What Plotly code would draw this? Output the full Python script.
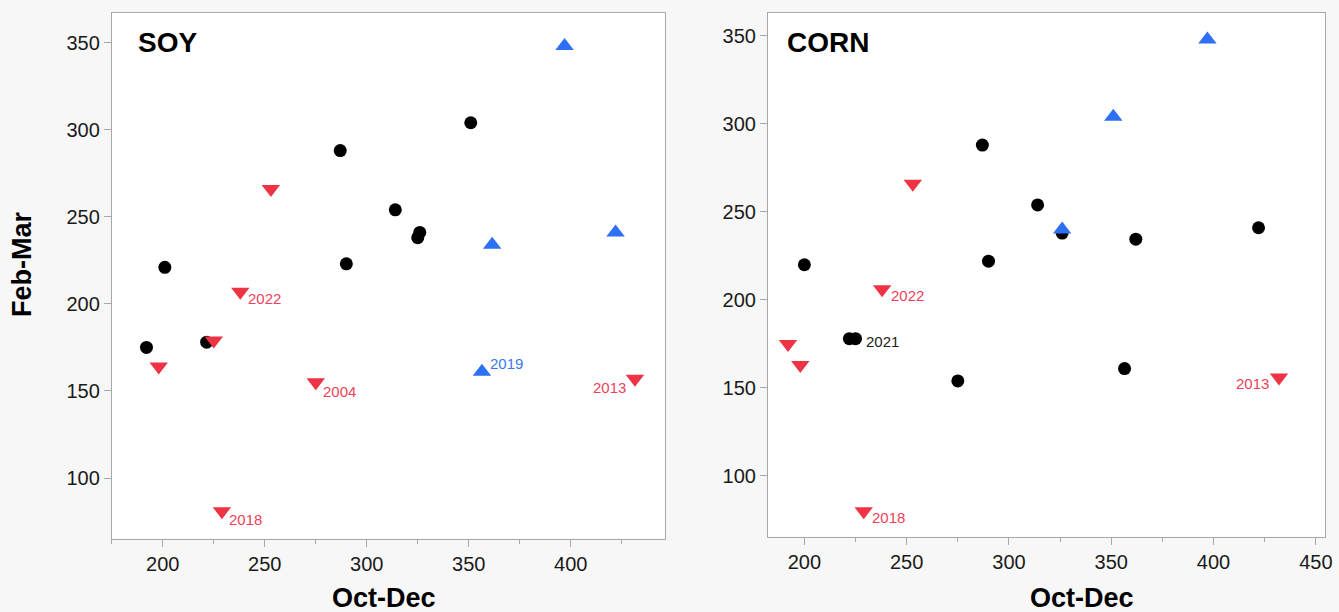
import plotly.graph_objects as go

W, H = 1339, 612

# ---------------- data ----------------
soy_black_x = [192, 201, 221.5, 287, 290, 314, 325, 326, 351]
soy_black_y = [175, 221, 178, 288, 223, 254, 238, 241, 304]
soy_red_x = [198, 225, 229, 238, 253, 275, 431.5]
soy_red_y = [164, 179, 81, 207, 266, 155, 157]
soy_red_lbl = ["", "", "2018", "2022", "", "2004", "2013"]
soy_blue_x = [356.5, 361.5, 397, 422]
soy_blue_y = [161, 234, 348, 241]
soy_blue_lbl = ["2019", "", "", ""]

corn_black_x = [200, 222, 225, 275, 287, 290, 314, 326, 356.5, 362, 422]
corn_black_y = [220, 178, 178, 154, 288, 222, 254, 238, 161, 234.5, 241]
corn_black_lbl = ["", "", "2021", "", "", "", "", "", "", "", ""]
corn_red_x = [192, 198, 229, 238, 253, 432]
corn_red_y = [175, 163, 80, 206, 266, 156]
corn_red_lbl = ["", "", "2018", "2022", "", "2013"]
corn_blue_x = [326, 351, 397]
corn_blue_y = [240, 304, 348]

x_ticks = [200, 250, 300, 350, 400, 450]
y_ticks = [100, 150, 200, 250, 300, 350]

# ---------------- style ----------------
FONT = "Liberation Sans, Arial, sans-serif"
BLACK = "#000000"
RED = "#ee3344"
BLUE = "#2d6ff5"
RED_TXT = "#f0415a"
BLUE_TXT = "#3a78f2"
FRAME = "#a8a8a8"
PAGE = "#f7f7f7"

fig = go.Figure()


def add_group(xs, ys, color, symbol, size, xa, ya):
    fig.add_trace(go.Scatter(
        x=xs, y=ys, mode="markers", xaxis=xa, yaxis=ya,
        marker=dict(color=color, symbol=symbol, size=size, line=dict(width=0)),
        showlegend=False, hoverinfo="x+y"))


# left panel: SOY
add_group(soy_black_x, soy_black_y, BLACK, "circle", 13, "x", "y")
add_group(soy_red_x, soy_red_y, RED, "triangle-down", 16, "x", "y")
add_group(soy_blue_x, soy_blue_y, BLUE, "triangle-up", 16, "x", "y")
# right panel: CORN
add_group(corn_black_x, corn_black_y, BLACK, "circle", 13, "x2", "y2")
add_group(corn_red_x, corn_red_y, RED, "triangle-down", 16, "x2", "y2")
add_group(corn_blue_x, corn_blue_y, BLUE, "triangle-up", 16, "x2", "y2")

annotations = []


def add_labels(xs, ys, lbls, color, xref, yref, side_map):
    for x, y, t in zip(xs, ys, lbls):
        if not t:
            continue
        anchor, dx, dy = side_map.get(t, ("left", 6, -8))
        annotations.append(dict(
            x=x, y=y, xref=xref, yref=yref, text=t, showarrow=False,
            xanchor=anchor, yanchor="middle", xshift=dx, yshift=dy,
            font=dict(family=FONT, size=15, color=color)))


add_labels(soy_red_x, soy_red_y, soy_red_lbl, RED_TXT, "x", "y",
           {"2013": ("right", -7, -9), "2022": ("left", 6, -7),
            "2004": ("left", 5, -9), "2018": ("left", 5, -8)})
add_labels(soy_blue_x, soy_blue_y, soy_blue_lbl, BLUE_TXT, "x", "y",
           {"2019": ("left", 6, 8)})
add_labels(corn_black_x, corn_black_y, corn_black_lbl, "#222222", "x2", "y2",
           {"2021": ("left", 8, -3)})
add_labels(corn_red_x, corn_red_y, corn_red_lbl, RED_TXT, "x2", "y2",
           {"2013": ("right", -8, -6), "2022": ("left", 7, -6),
            "2018": ("left", 6, -6)})


def px(xp):
    return xp / W


def py(yp):
    return 1 - yp / H


# panel names
annotations.append(dict(x=px(137), y=py(43), xref="paper", yref="paper", text="<b>SOY</b>",
                        showarrow=False, xanchor="left", yanchor="middle",
                        font=dict(family=FONT, size=28, color="#000")))
annotations.append(dict(x=px(789), y=py(43), xref="paper", yref="paper", text="<b>CORN</b>",
                        showarrow=False, xanchor="left", yanchor="middle",
                        font=dict(family=FONT, size=28, color="#000")))
# axis titles
annotations.append(dict(x=px(22), y=py(264), xref="paper", yref="paper", text="<b>Feb-Mar</b>",
                        showarrow=False, textangle=-90, xanchor="center", yanchor="middle",
                        font=dict(family=FONT, size=27, color="#000")))
annotations.append(dict(x=px(386), y=py(598), xref="paper", yref="paper", text="<b>Oct-Dec</b>",
                        showarrow=False, xanchor="center", yanchor="middle",
                        font=dict(family=FONT, size=27, color="#000")))
annotations.append(dict(x=px(1088), y=py(598), xref="paper", yref="paper", text="<b>Oct-Dec</b>",
                        showarrow=False, xanchor="center", yanchor="middle",
                        font=dict(family=FONT, size=27, color="#000")))

axis_common = dict(showgrid=False, zeroline=False, showline=True, mirror=True,
                   linecolor=FRAME, linewidth=1, ticks="outside", ticklen=7,
                   tickcolor=FRAME, tickwidth=1, ticklabeloverflow="allow",
                   tickfont=dict(family=FONT, size=20, color="#1a1a1a"))
xminor = dict(dtick=25, ticklen=4, tickcolor=FRAME, ticks="outside", tickwidth=1)

fig.update_layout(
    width=W, height=H,
    margin=dict(l=0, r=0, t=0, b=0),
    paper_bgcolor=PAGE, plot_bgcolor="#ffffff",
    annotations=annotations,
    xaxis=dict(domain=[px(112.4), px(668)], range=[175, 446], tickvals=x_ticks,
               minor=xminor, anchor="y", **axis_common),
    yaxis=dict(domain=[py(538.5), py(13)], range=[65.3, 367], tickvals=y_ticks,
               anchor="x", **axis_common),
    xaxis2=dict(domain=[px(772), px(1332)], range=[182.2, 454.5], tickvals=x_ticks,
                minor=xminor, anchor="y2", **axis_common),
    yaxis2=dict(domain=[py(536.7), py(13)], range=[65.5, 363], tickvals=y_ticks,
                anchor="x2", **axis_common),
)

fig.write_html(
    "out.html",
    config={"displayModeBar": False},
    post_script="document.body.style.margin='0';document.body.style.padding='0';"
                "document.body.style.background='" + PAGE + "';"
                "document.body.style.overflow='hidden';",
)
